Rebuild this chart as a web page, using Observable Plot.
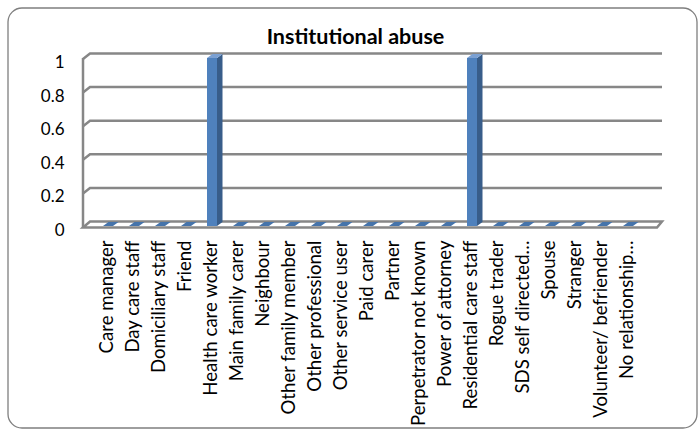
<!DOCTYPE html>
<html>
<head>
<meta charset="utf-8">
<script src="https://cdn.jsdelivr.net/npm/d3@7"></script>
<script src="https://cdn.jsdelivr.net/npm/@observablehq/plot@0.6"></script>
<style>
  html, body { margin: 0; padding: 0; background: #fff; }
  #chart svg { display: block; }
</style>
</head>
<body>
<div id="chart"></div>
<script>
// ---- data ----
const chartTitle = "Institutional abuse";
const categories = [
  "Care manager", "Day care staff", "Domiciliary staff", "Friend", "Health care worker",
  "Main family carer", "Neighbour", "Other family member", "Other professional",
  "Other service user", "Paid carer", "Partner", "Perpetrator not known", "Power of attorney",
  "Residential care staff", "Rogue trader", "SDS self directed…", "Spouse", "Stranger",
  "Volunteer/ befriender", "No relationship…"
];
const values = [0, 0, 0, 0, 1, 0, 0, 0, 0, 0, 0, 0, 0, 0, 1, 0, 0, 0, 0, 0, 0];
const yTicks = [0, 0.2, 0.4, 0.6, 0.8, 1];
const yTickLabels = ["0", "0.2", "0.4", "0.6", "0.8", "1"];

const data = categories.map((c, i) => ({category: c, value: values[i]}));

// ---- styles ----
const FONT = "Lato, 'Open Sans', sans-serif";
const GRID = "#878787";
const FRONT = "#4f81bd";
const SIDE = "#385d8a";
const TOP = "#7ba0d2";
const ZERO_TOP = "#4674ab";
const WALL_DX = 7, WALL_DY = -4.5;   // depth of back wall
const BAR_DX = 5.5, BAR_DY = -4;     // depth of bars
const BAR_INSET = 8;

const bandCenter = (xs, c) => xs(c) + (xs.bandwidth ? xs.bandwidth() / 2 : 0);
const halfBar = (xs) => (xs.bandwidth ? xs.bandwidth() / 2 : 13.45) - BAR_INSET;

// back wall, left wall and floor, drawn with the plot's scales
function walls(index, scales) {
  const {x, y} = scales;
  const [r0, r1] = x.range();
  const xL = r0 - 2.5, xB = xL + WALL_DX, xR = r1 + 11.5;
  const g = d3.create("svg:g")
    .attr("fill", "none").attr("stroke", GRID).attr("stroke-width", 2.5);
  for (const t of yTicks.slice(1)) {
    g.append("path").attr("d", `M${xL},${y(t) + 1}L${xB},${y(t) + WALL_DY}H${xR}`);
  }
  g.append("line").attr("x1", xL).attr("x2", xL).attr("y1", y(1)).attr("y2", y(0) + 2);
  const y0 = y(0);
  g.append("path")
    .attr("fill", "#fff")
    .attr("d", `M${xL},${y0 + 1.5}L${xB},${y0 + WALL_DY}H${xR}L${xR - 5},${y0 + 1.5}Z`);
  return g.node();
}

// side and top faces of the 3D columns
function barFaces(index, scales) {
  const {x, y} = scales;
  const hw = halfBar(x);
  const g = d3.create("svg:g");
  for (const d of data) {
    const cx = bandCenter(x, d.category);
    const y1 = y(d.value), y0 = y(0);
    const l = cx - hw, r = cx + hw;
    if (d.value > 0) {
      g.append("path").attr("fill", SIDE)
        .attr("d", `M${r},${y1}L${r + BAR_DX},${y1 + BAR_DY}V${y0 + BAR_DY}L${r},${y0}Z`);
    }
    g.append("path").attr("fill", d.value > 0 ? TOP : ZERO_TOP)
      .attr("d", `M${l},${y1}H${r}L${r + BAR_DX},${y1 + BAR_DY}H${l + BAR_DX}Z`);
  }
  return g.node();
}

const chart = Plot.plot({
  width: 699,
  height: 430,
  margin: 0,
  style: {fontFamily: FONT, background: "#fff"},
  x: {type: "band", domain: categories, range: [85.5, 650.5], padding: 0, axis: null},
  y: {domain: [0, 1], range: [226, 58], axis: null},
  marks: [
    Plot.frame({stroke: "#7f7f7f", strokeWidth: 1.3, rx: 14,
      insetLeft: 7.5, insetTop: 7.5, insetRight: 2.5, insetBottom: 2.5}),
    walls,
    Plot.barY(data, {x: "category", y: "value", fill: FRONT,
      insetLeft: BAR_INSET, insetRight: BAR_INSET}),
    barFaces,
    Plot.text(yTicks, {y: d => d, text: (d, i) => yTickLabels[i], frameAnchor: "left",
      dx: 64, dy: 4, textAnchor: "end", fontSize: 17, fontFamily: FONT, fill: "#000"}),
    Plot.text(data, {x: "category", y: () => 0, text: "category", rotate: -90,
      textAnchor: "end", dx: -1, dy: 14, fontSize: 18.6, fontFamily: FONT, fill: "#000"}),
    Plot.text([chartTitle], {text: d => d, frameAnchor: "top", lineAnchor: "middle",
      dx: 5.5, dy: 37, fontSize: 21.5, fontWeight: "bold", fontFamily: FONT, fill: "#000"})
  ]
});
document.getElementById("chart").appendChild(chart);
</script>
</body>
</html>
